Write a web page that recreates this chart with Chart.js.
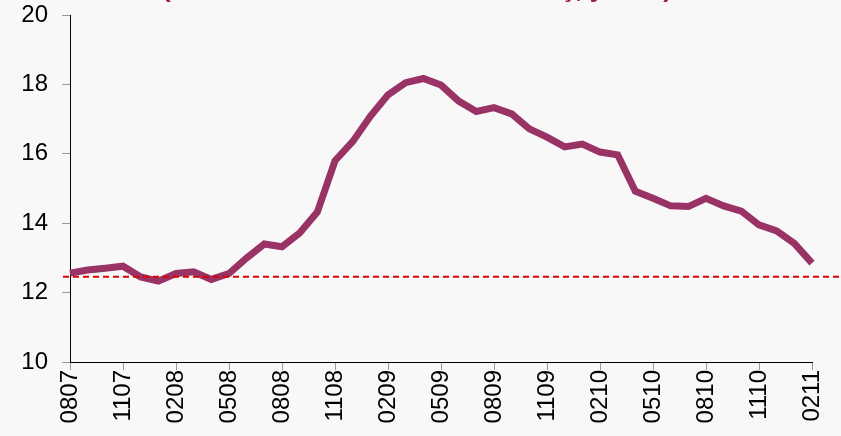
<!DOCTYPE html>
<html>
<head>
<meta charset="utf-8">
<script src="https://cdn.jsdelivr.net/npm/chart.js@4/dist/chart.umd.min.js"></script>
<style>
  html, body { margin: 0; padding: 0; background: #f8f8f8; }
  #wrap { width: 841px; height: 436px; }
</style>
</head>
<body>
<div id="wrap"><canvas id="chart"></canvas></div>
<script>
// month codes MMYY, Aug 2007 .. Feb 2011
const months = [
  '0807','0907','1007','1107','1207','0108','0208','0308','0408','0508','0608','0708',
  '0808','0908','1008','1108','1208','0109','0209','0309','0409','0509','0609','0709',
  '0809','0909','1009','1109','1209','0110','0210','0310','0410','0510','0610','0710',
  '0810','0910','1010','1110','1210','0111','0211'
];
const rates = [
  12.56, 12.65, 12.70, 12.76, 12.45, 12.33, 12.55, 12.60, 12.38, 12.55, 13.00, 13.40,
  13.32, 13.72, 14.32, 15.80, 16.35, 17.08, 17.70, 18.05, 18.17, 17.98, 17.52, 17.22,
  17.33, 17.15, 16.72, 16.48, 16.20, 16.28, 16.05, 15.97, 14.92, 14.72, 14.50, 14.48,
  14.72, 14.50, 14.35, 13.95, 13.78, 13.42, 12.85
];
const refLevel = 12.46;
const titleText = '(Tüketici Kredisi Faiz Oranı - Akış, yüzde)';

const extras = {
  id: 'extras',
  beforeDraw(chart) {
    const c = chart.ctx;
    c.save();
    c.fillStyle = '#f8f8f8';
    c.fillRect(0, 0, chart.width, chart.height);
    c.restore();
  },
  afterDatasetsDraw(chart) {
    const c = chart.ctx;
    const y = chart.scales.y.getPixelForValue(refLevel);
    c.save();
    c.strokeStyle = '#dd0000';
    c.lineWidth = 2;
    c.setLineDash([6, 4]);
    c.beginPath();
    c.moveTo(chart.chartArea.left - 7, y);
    c.lineTo(chart.width, y);
    c.stroke();
    c.restore();

    // title sits mostly above the top edge, only descenders show
    c.save();
    c.font = 'bold 26px "Liberation Sans", Arial, sans-serif';
    c.fillStyle = '#a0203a';
    c.textAlign = 'center';
    c.textBaseline = 'alphabetic';
    c.fillText(titleText, 417, -3);
    c.restore();
  }
};

new Chart(document.getElementById('chart'), {
  type: 'line',
  data: {
    labels: months,
    datasets: [{
      data: rates,
      borderColor: '#993366',
      borderWidth: 7,
      pointRadius: 0,
      fill: false,
      tension: 0
    }]
  },
  options: {
    responsive: true,
    maintainAspectRatio: false,
    animation: false,
    layout: { padding: { top: 15, right: 29, left: 0, bottom: 0 } },
    plugins: { legend: { display: false }, tooltip: { enabled: false } },
    scales: {
      x: {
        afterFit: s => { s.height = 74; },
        border: { color: '#000', width: 1 },
        grid: { drawOnChartArea: false, drawTicks: true, tickLength: 8, color: '#999' },
        ticks: {
          autoSkip: false,
          minRotation: 90,
          maxRotation: 90,
          padding: 0,
          color: '#000',
          font: { family: '"Liberation Sans", Arial, sans-serif', size: 24 },
          callback: (v, i) => (i % 3 === 0 ? months[i] : null)
        }
      },
      y: {
        min: 10,
        max: 20,
        afterFit: s => { s.width = 70; s.paddingTop = 0; s.paddingBottom = 0; },
        border: { color: '#000', width: 1 },
        grid: { drawOnChartArea: false, drawTicks: true, tickLength: 8, color: '#999' },
        ticks: {
          stepSize: 2,
          padding: 14,
          color: '#000',
          font: { family: '"Liberation Sans", Arial, sans-serif', size: 24 }
        }
      }
    }
  },
  plugins: [extras]
});
</script>
</body>
</html>
